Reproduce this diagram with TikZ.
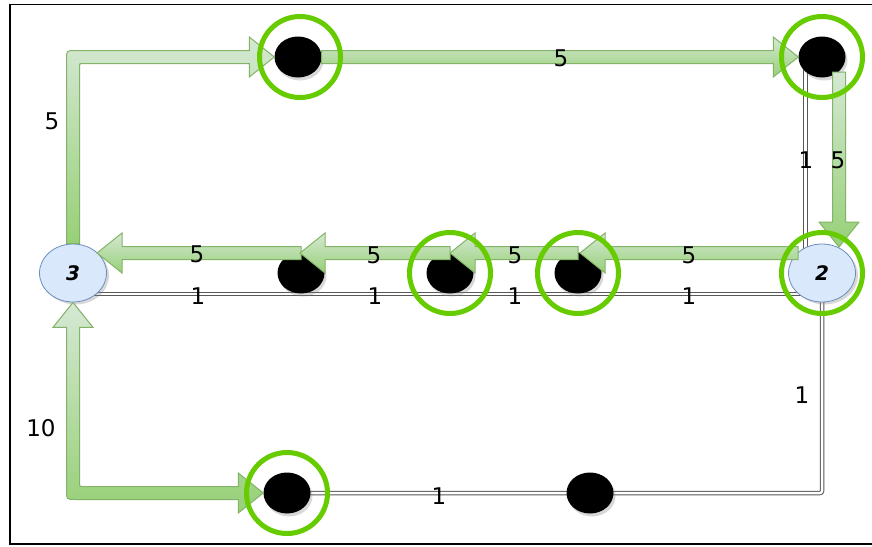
\documentclass[tikz,border=0pt]{standalone}
\usepackage{fontspec}
\setmainfont{DejaVu Sans}
\usetikzlibrary{calc,shapes.geometric,shadows,backgrounds}

\definecolor{ringgreen}{HTML}{66CC00}
\definecolor{arrowline}{HTML}{82B366}
\definecolor{arrowlight}{HTML}{D5E8D4}
\definecolor{arrowdark}{HTML}{97D077}
\definecolor{nodefill}{HTML}{DAE8FC}
\definecolor{nodeline}{HTML}{6C8EBF}
\definecolor{wireline}{HTML}{585858}

\tikzset{
  vertex/.style={ellipse, draw=nodeline, fill=nodefill, line width=0.8pt,
    minimum width=67pt, minimum height=58pt, inner sep=0pt,
    font=\fontsize{20}{20}\selectfont\bfseries\itshape,
    drop shadow={shadow xshift=2.5pt, shadow yshift=-2.5pt, opacity=0.3}},
  dot/.style={ellipse, fill=black, minimum width=47pt, minimum height=41pt,
    inner sep=0pt,
    drop shadow={shadow xshift=2pt, shadow yshift=-3pt, opacity=0.3}},
  ring/.style={circle, draw=ringgreen, line width=5pt, minimum size=81pt,
    inner sep=0pt},
  wire/.style={draw=wireline, line width=1pt, double=white,
    double distance=2.5pt, line join=round},
  fatarrowstyle/.style={draw=arrowline, line width=1pt, line join=miter,
    top color=arrowlight, bottom color=arrowdark},
  weight/.style={inner sep=0pt, font=\fontsize{23}{23}\selectfont},
}

% straight block arrow: tail #1, tip #2
\newcommand\fatarrow[2]{%
  \coordinate (fatT) at #1;
  \coordinate (fatH) at #2;
  \coordinate (fatB) at ($(fatH)!25pt!(fatT)$);
  \path[fatarrowstyle]
    ($(fatT)!6.5pt!90:(fatH)$) -- ($(fatB)!6.5pt!-90:(fatT)$)
    -- ($(fatB)!20pt!-90:(fatT)$) -- (fatH)
    -- ($(fatB)!20pt!90:(fatT)$) -- ($(fatB)!6.5pt!90:(fatT)$)
    -- ($(fatT)!6.5pt!-90:(fatH)$) -- cycle;
}

\begin{document}
\begin{tikzpicture}[x=1pt,y=-1pt]
\useasboundingbox (0,0) rectangle (872,546);
\begin{pgfonlayer}{background}
  \fill[white] (0,0) rectangle (872,546);
\end{pgfonlayer}
\draw[line width=1.2pt] (10,4.5) rectangle (880,544);

% vertices and waypoints
\node[vertex] (n3) at (73,273) {3};
\node[vertex] (n2) at (822,273) {2};
\node[dot] (d1) at (298,57) {};
\node[dot] (d2) at (822,57) {};
\node[dot] (m1) at (301,273) {};
\node[dot] (m2) at (450,273) {};
\node[dot] (m3) at (578,273) {};
\node[dot] (d5) at (287,493) {};
\node[dot] (d4) at (590,493) {};

% double-line edges
\begin{pgfonlayer}{background}
  \draw[wire] ($(n3.center)+(0,21)$) -- ($(n2.center)+(0,21)$);
  \draw[wire] ($(d2.center)+(-16.5,0)$) -- ($(n2.center)+(-16.5,0)$);
  \draw[wire, rounded corners=2pt] (n2.center) |- (d4.center) -- (d5.center);
\end{pgfonlayer}

% path 3 -> up -> top row
\coordinate (c1) at (n3.north |- d1.center);
\path[fatarrowstyle]
  ($(n3.north)+(-6.5,0)$) -- ($(c1)+(-6.5,2.5)$)
  .. controls ($(c1)+(-6.5,-6.5)$) .. ($(c1)+(2.5,-6.5)$)
  -- ($(d1.west)+(-25,-6.5)$) -- ($(d1.west)+(-25,-20)$) -- (d1.west)
  -- ($(d1.west)+(-25,20)$) -- ($(d1.west)+(-25,6.5)$)
  -- ($(c1)+(9.5,6.5)$)
  .. controls ($(c1)+(6.5,6.5)$) .. ($(c1)+(6.5,9.5)$)
  -- ($(n3.north)+(6.5,0)$) -- cycle;

% path between 3 and the bottom row (two heads)
\coordinate (c2) at (n3.south |- d5.center);
\path[fatarrowstyle]
  (n3.south) -- ($(n3.south)+(20,25)$) -- ($(n3.south)+(6.5,25)$)
  -- ($(c2)+(6.5,-9.5)$)
  .. controls ($(c2)+(6.5,-6.5)$) .. ($(c2)+(9.5,-6.5)$)
  -- ($(d5.west)+(-25,-6.5)$) -- ($(d5.west)+(-25,-20)$) -- (d5.west)
  -- ($(d5.west)+(-25,20)$) -- ($(d5.west)+(-25,6.5)$)
  -- ($(c2)+(2.5,6.5)$)
  .. controls ($(c2)+(-6.5,6.5)$) .. ($(c2)+(-6.5,-2.5)$)
  -- ($(n3.south)+(-6.5,25)$) -- ($(n3.south)+(-20,25)$) -- cycle;

% top row and right side
\fatarrow{(d1.east)}{(d2.west)}
\fatarrow{($(d2.center)+(17,15)$)}{($(n2.center)+(17,-26)$)}

% middle row, right to left
\fatarrow{($(m1.center)+(0,-20)$)}{($(n3.center)+(24,-20)$)}
\fatarrow{($(m2.center)+(0,-20)$)}{($(m1.center)+(-1,-20)$)}
\fatarrow{($(m3.center)+(0,-20)$)}{($(m2.center)+(0,-20)$)}
\fatarrow{($(n2.center)+(-24,-20)$)}{($(m3.center)+(2,-20)$)}

% highlight rings
\node[ring] (r1) at (300,57) {};
\node[ring] (r2) at (822,57) {};
\node[ring] (r3) at (n2.center) {};
\node[ring] (r4) at (m2.center) {};
\node[ring] (r5) at (m3.center) {};
\node[ring] (r6) at (d5.center) {};

% weights on the block arrows
\node[weight] (a1) at (52,121) {5};
\node[weight] (a2) at (561,58.5) {5};
\node[weight] (a3) at (838,160.5) {5};
\node[weight] (a4) at (197,254.5) {5};
\node[weight] (a5) at (374,255) {5};
\node[weight] (a6) at (515,255.5) {5};
\node[weight] (a7) at (689,255) {5};
\node[weight] (a8) at (41,428) {10};

% weights on the double-line edges
\node[weight] (b1) at (806,160) {1};
\node[weight] (b2) at (198,296) {1};
\node[weight] (b3) at (375,296) {1};
\node[weight] (b4) at (515,296) {1};
\node[weight] (b5) at (689,296) {1};
\node[weight] (b6) at (802,395) {1};
\node[weight] (b7) at (439,496) {1};
\end{tikzpicture}
\end{document}
